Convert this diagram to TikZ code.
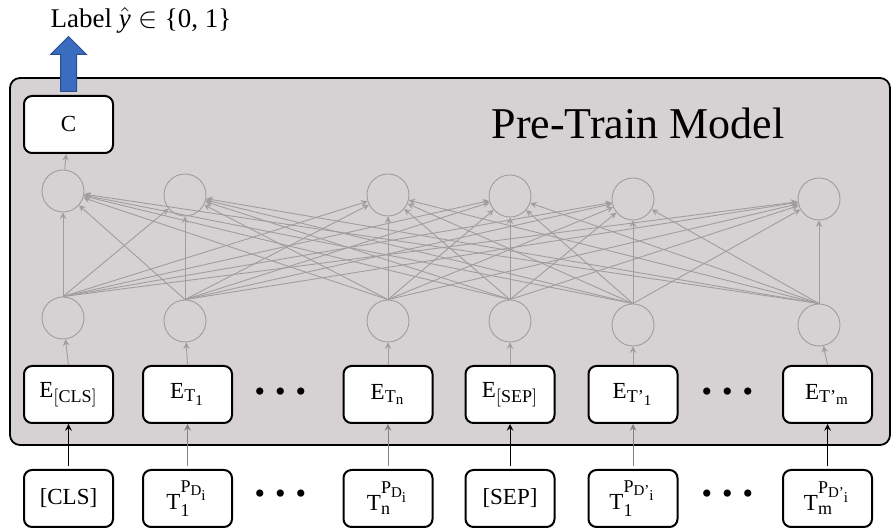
\documentclass[tikz,border=0pt]{standalone}
\usepackage{amsmath}
\usepackage{fontspec}
\setmainfont{Liberation Serif}
\usetikzlibrary{arrows, positioning, shapes.arrows}
\DeclareMathSizes{11.5}{11.5}{9}{7.5}
\definecolor{panel}{RGB}{214,210,211}
\definecolor{wire}{RGB}{158,158,158}
\definecolor{outblue}{RGB}{58,108,192}
\definecolor{outedge}{RGB}{42,78,140}

\begin{document}
\begin{tikzpicture}[x=0.5pt,y=-0.5pt,
  box/.style={draw, line width=1pt, rounded corners=4pt, fill=white,
    minimum width=44.5pt, minimum height=28.5pt, inner sep=0pt,
    font=\fontsize{11.5}{13}\selectfont},
  unit/.style={circle, draw=wire, line width=0.45pt, minimum size=21pt, inner sep=0pt},
  wire/.style={->, >=stealth, draw=wire, line width=0.45pt},
  feed/.style={->, >=stealth, line width=0.5pt},
  gap/.style={font=\fontsize{15}{15}\selectfont}]
\useasboundingbox (0,0) rectangle (891,529);

% model panel
\draw[fill=panel, line width=0.9pt, rounded corners=5pt] (10,78) rectangle (890,445);
\node (title) at (638,123) {\fontsize{22}{26}\selectfont Pre-Train Model};

% hidden units
\foreach \i/\x/\lo/\up in {1/63/318/191, 2/185/321/195, 3/388/321/195,
                           4/510/321/196, 5/633/325/199, 6/819/325/199} {
  \node[unit] (l\i) at (\x,\lo) {};
  \node[unit] (u\i) at (\x,\up) {};
}
\foreach \i in {1,...,6}
  \foreach \j in {1,...,6}
    \draw[wire] (l\i.north) -- (u\j);

% classifier output
\node[box] (C) at (68.5,124.5) {C};
\draw[wire] (u1) -- (C);
\node[single arrow, fill=outblue, draw=outedge, line width=0.5pt, rotate=90,
  anchor=west, minimum height=27.5pt, inner xsep=0pt, inner ysep=3.75pt,
  single arrow head extend=5pt] (out) at ([yshift=1.5pt]C.north) {};
\node[font=\fontsize{13.5}{15}\selectfont, inner sep=1pt] (label) at (141,20)
  {Label $\hat{\textit{y}} \in$ \{0, 1\}};

% embeddings
\node[box] (ecls) at (68.5,394.5) {$\mathrm{E_{[CLS]}}$};
\node[box] (et1) at (187.5,394.5) {$\mathrm{E_{T_1}}$};
\node[box] (etn) at (388,394.5) {$\mathrm{E_{T_n}}$};
\node[box] (esep) at (510,394.5) {$\mathrm{E_{[SEP]}}$};
\node[box] (etp1) at (633,394.5) {$\mathrm{E_{T\text{'}_1}}$};
\node[box] (etpm) at (827.5,394.5) {$\mathrm{E_{T\text{'}_m}}$};
\node[gap] (dotsa) at (280.5,394.5) {\textbullet\hspace{5pt}\textbullet\hspace{5pt}\textbullet};
\node[gap] (dotsb) at (727.5,394.5) {\textbullet\hspace{5pt}\textbullet\hspace{5pt}\textbullet};

% inputs
\node[box] (cls) [below=22.5pt of ecls] {[CLS]};
\node[box] (t1) [below=22.5pt of et1] {$\mathrm{T_1^{P_{D_i}}}$};
\node[box] (tn) [below=22.5pt of etn] {$\mathrm{T_n^{P_{D_i}}}$};
\node[box] (sep) [below=22.5pt of esep] {[SEP]};
\node[box] (tp1) [below=22.5pt of etp1] {$\mathrm{T_1^{P_{D\text{'}_i}}}$};
\node[box] (tpm) [below=22.5pt of etpm] {$\mathrm{T_m^{P_{D\text{'}_i}}}$};
\node[gap] (dotsc) at (280.5,497) {\textbullet\hspace{5pt}\textbullet\hspace{5pt}\textbullet};
\node[gap] (dotsd) at (727.5,497) {\textbullet\hspace{5pt}\textbullet\hspace{5pt}\textbullet};

\draw[feed] ([yshift=1.5pt]cls.north) -- (ecls.south);
\draw[feed, gray] ([yshift=1.5pt]t1.north) -- (et1.south);
\draw[feed, gray] ([yshift=1.5pt]tn.north) -- (etn.south);
\draw[feed] ([yshift=1.5pt]sep.north) -- (esep.south);
\draw[feed, gray] ([yshift=1.5pt]tp1.north) -- (etp1.south);
\draw[feed] ([yshift=1.5pt]tpm.north) -- (etpm.south);

\draw[wire] (ecls.north) -- (l1);
\draw[wire] (et1.north) -- (l2);
\draw[wire] (etn.north) -- (l3);
\draw[wire] (esep.north) -- (l4);
\draw[wire] (etp1.north) -- (l5);
\draw[wire] (etpm.north) -- (l6);
\end{tikzpicture}
\end{document}
